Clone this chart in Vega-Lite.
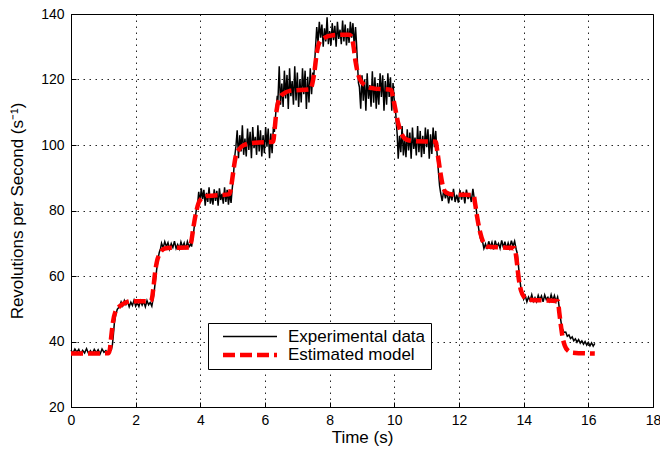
{
  "$schema": "https://vega.github.io/schema/vega-lite/v6.json",
  "width": 582,
  "height": 393,
  "autosize": "none",
  "padding": {"left": 71, "top": 14, "right": 7, "bottom": 42},
  "background": "white",
  "config": {
    "font": "Liberation Sans",
    "view": {"stroke": "black", "strokeWidth": 1},
    "axis": {
      "domainColor": "black", "domainWidth": 1,
      "tickColor": "black", "tickSize": -5,
      "labelColor": "black", "labelFontSize": 14, "labelFont": "Liberation Sans",
      "titleColor": "black", "titleFontSize": 17, "titleFontWeight": "normal", "titleFont": "Liberation Sans",
      "grid": true, "gridColor": "black", "gridDash": [1.5, 4.5], "gridWidth": 1, "gridOpacity": 0.85
    },
    "legend": {
      "orient": "none", "legendX": 137, "legendY": 309,
      "fillColor": "white", "strokeColor": "black", "padding": 5,
      "symbolType": "M0,0L7.2,0", "symbolSize": 225,
      "labelFontSize": 17, "labelFont": "Liberation Sans", "labelColor": "black",
      "labelOffset": 55, "rowPadding": 0
    }
  },
  "datasets": {
    "exp": [
      {"s":"E","t":0,"v":37.4},{"s":"E","t":0.06,"v":36.4},{"s":"E","t":0.12,"v":37.7},{"s":"E","t":0.18,"v":36.8},{"s":"E","t":0.24,"v":37.6},{"s":"E","t":0.3,"v":36.2},{"s":"E","t":0.36,"v":37.3},{"s":"E","t":0.42,"v":36.5},{"s":"E","t":0.48,"v":37.8},{"s":"E","t":0.54,"v":36.4},{"s":"E","t":0.6,"v":37.2},{"s":"E","t":0.66,"v":36.3},{"s":"E","t":0.72,"v":37.6},{"s":"E","t":0.78,"v":36.6},{"s":"E","t":0.84,"v":37.5},{"s":"E","t":0.9,"v":36.2},{"s":"E","t":0.96,"v":37.7},{"s":"E","t":1.02,"v":36.7},{"s":"E","t":1.08,"v":37.2},{"s":"E","t":1.14,"v":36.4},{"s":"E","t":1.2,"v":37.8},{"s":"E","t":1.25,"v":37.5},
      {"s":"E","t":1.28,"v":39},{"s":"E","t":1.31,"v":42},{"s":"E","t":1.34,"v":45.5},{"s":"E","t":1.38,"v":48},{"s":"E","t":1.43,"v":49.8},{"s":"E","t":1.5,"v":50.6},
      {"s":"E","t":1.55,"v":52.1},{"s":"E","t":1.6,"v":50.9},{"s":"E","t":1.65,"v":52.5},{"s":"E","t":1.7,"v":51.3},{"s":"E","t":1.75,"v":52.3},{"s":"E","t":1.8,"v":50.6},{"s":"E","t":1.85,"v":52.0},{"s":"E","t":1.9,"v":51.0},{"s":"E","t":1.95,"v":52.6},{"s":"E","t":2.0,"v":50.8},{"s":"E","t":2.05,"v":51.8},{"s":"E","t":2.1,"v":50.7},{"s":"E","t":2.15,"v":52.4},{"s":"E","t":2.2,"v":51.1},{"s":"E","t":2.25,"v":52.2},{"s":"E","t":2.3,"v":50.6},{"s":"E","t":2.35,"v":52.5},{"s":"E","t":2.4,"v":51.2},{"s":"E","t":2.45,"v":51.9},{"s":"E","t":2.5,"v":50.8},
      {"s":"E","t":2.53,"v":52.5},{"s":"E","t":2.57,"v":55},{"s":"E","t":2.61,"v":58.5},{"s":"E","t":2.65,"v":62},{"s":"E","t":2.69,"v":65},{"s":"E","t":2.73,"v":67.2},{"s":"E","t":2.77,"v":68.4},
      {"s":"E","t":2.8,"v":70.0},{"s":"E","t":2.85,"v":68.6},{"s":"E","t":2.9,"v":70.5},{"s":"E","t":2.95,"v":69.0},{"s":"E","t":3.0,"v":70.2},{"s":"E","t":3.05,"v":68.2},{"s":"E","t":3.1,"v":69.9},{"s":"E","t":3.15,"v":68.7},{"s":"E","t":3.2,"v":70.6},{"s":"E","t":3.25,"v":68.4},{"s":"E","t":3.3,"v":69.6},{"s":"E","t":3.35,"v":68.3},{"s":"E","t":3.4,"v":70.4},{"s":"E","t":3.45,"v":68.8},{"s":"E","t":3.5,"v":70.1},{"s":"E","t":3.55,"v":68.2},{"s":"E","t":3.6,"v":70.5},{"s":"E","t":3.65,"v":68.9},{"s":"E","t":3.7,"v":69.8},{"s":"E","t":3.73,"v":69.0},
      {"s":"E","t":3.76,"v":71},{"s":"E","t":3.8,"v":74},{"s":"E","t":3.84,"v":77.5},{"s":"E","t":3.88,"v":80.5},{"s":"E","t":3.92,"v":82.5},
      {"s":"E","t":3.95,"v":85.7},{"s":"E","t":3.99,"v":82.3},{"s":"E","t":4.03,"v":86.8},{"s":"E","t":4.07,"v":83.5},{"s":"E","t":4.11,"v":86.3},{"s":"E","t":4.15,"v":81.5},{"s":"E","t":4.19,"v":85.4},{"s":"E","t":4.23,"v":82.6},{"s":"E","t":4.27,"v":87.1},{"s":"E","t":4.31,"v":82.1},{"s":"E","t":4.35,"v":84.9},{"s":"E","t":4.39,"v":81.8},{"s":"E","t":4.43,"v":86.5},{"s":"E","t":4.47,"v":82.9},{"s":"E","t":4.51,"v":86.0},{"s":"E","t":4.55,"v":81.5},{"s":"E","t":4.59,"v":86.8},{"s":"E","t":4.63,"v":83.2},{"s":"E","t":4.67,"v":85.1},{"s":"E","t":4.71,"v":82.1},{"s":"E","t":4.75,"v":87.1},{"s":"E","t":4.79,"v":82.6},{"s":"E","t":4.83,"v":86.3},{"s":"E","t":4.87,"v":81.8},{"s":"E","t":4.91,"v":85.4},{"s":"E","t":4.95,"v":82.3},
      {"s":"E","t":4.98,"v":86},{"s":"E","t":5.01,"v":89},{"s":"E","t":5.04,"v":93},{"s":"E","t":5.07,"v":97},
      {"s":"E","t":5.1,"v":99.5},{"s":"E","t":5.14,"v":104.5},{"s":"E","t":5.18,"v":96.0},{"s":"E","t":5.22,"v":103.0},{"s":"E","t":5.26,"v":98.0},{"s":"E","t":5.3,"v":106.0},{"s":"E","t":5.34,"v":97.0},{"s":"E","t":5.38,"v":102.0},{"s":"E","t":5.42,"v":96.5},{"s":"E","t":5.46,"v":105.0},{"s":"E","t":5.5,"v":98.5},{"s":"E","t":5.54,"v":104.0},{"s":"E","t":5.58,"v":96.0},{"s":"E","t":5.62,"v":105.5},{"s":"E","t":5.66,"v":99.0},{"s":"E","t":5.7,"v":102.5},{"s":"E","t":5.74,"v":97.0},{"s":"E","t":5.78,"v":106.0},{"s":"E","t":5.82,"v":98.0},{"s":"E","t":5.86,"v":104.5},{"s":"E","t":5.9,"v":96.5},{"s":"E","t":5.94,"v":103.0},{"s":"E","t":5.98,"v":97.5},{"s":"E","t":6.02,"v":105.5},{"s":"E","t":6.06,"v":99.5},{"s":"E","t":6.1,"v":105.0},{"s":"E","t":6.14,"v":96.0},{"s":"E","t":6.18,"v":103.5},{"s":"E","t":6.22,"v":97.5},{"s":"E","t":6.26,"v":105.5},
      {"s":"E","t":6.29,"v":104},{"s":"E","t":6.32,"v":108},{"s":"E","t":6.35,"v":112},{"s":"E","t":6.38,"v":115},
      {"s":"E","t":6.4,"v":113.6},{"s":"E","t":6.44,"v":124.0},{"s":"E","t":6.48,"v":112.3},{"s":"E","t":6.52,"v":118.8},{"s":"E","t":6.56,"v":111.6},{"s":"E","t":6.6,"v":122.7},{"s":"E","t":6.64,"v":114.2},{"s":"E","t":6.68,"v":121.4},{"s":"E","t":6.72,"v":111.0},{"s":"E","t":6.76,"v":123.4},{"s":"E","t":6.8,"v":114.9},{"s":"E","t":6.84,"v":119.5},{"s":"E","t":6.88,"v":112.3},{"s":"E","t":6.92,"v":124.0},{"s":"E","t":6.96,"v":113.6},{"s":"E","t":7.0,"v":122.1},{"s":"E","t":7.04,"v":111.6},{"s":"E","t":7.08,"v":120.1},{"s":"E","t":7.12,"v":113.0},{"s":"E","t":7.16,"v":123.4},{"s":"E","t":7.2,"v":115.5},{"s":"E","t":7.24,"v":122.7},{"s":"E","t":7.28,"v":111.0},{"s":"E","t":7.32,"v":120.8},{"s":"E","t":7.36,"v":113.0},{"s":"E","t":7.4,"v":123.4},{"s":"E","t":7.44,"v":115.5},{"s":"E","t":7.48,"v":122.1},
      {"s":"E","t":7.51,"v":121},{"s":"E","t":7.54,"v":126},{"s":"E","t":7.57,"v":131},
      {"s":"E","t":7.6,"v":136.0},{"s":"E","t":7.64,"v":131.2},{"s":"E","t":7.68,"v":137.6},{"s":"E","t":7.72,"v":132.8},{"s":"E","t":7.76,"v":136.8},{"s":"E","t":7.8,"v":130.0},{"s":"E","t":7.84,"v":135.6},{"s":"E","t":7.88,"v":131.6},{"s":"E","t":7.92,"v":139.0},{"s":"E","t":7.96,"v":130.8},{"s":"E","t":8.0,"v":134.8},{"s":"E","t":8.04,"v":130.4},{"s":"E","t":8.08,"v":137.2},{"s":"E","t":8.12,"v":132.0},{"s":"E","t":8.16,"v":136.4},{"s":"E","t":8.2,"v":130.0},{"s":"E","t":8.24,"v":137.6},{"s":"E","t":8.28,"v":132.4},{"s":"E","t":8.32,"v":135.2},{"s":"E","t":8.36,"v":130.8},{"s":"E","t":8.4,"v":138.0},{"s":"E","t":8.44,"v":131.6},{"s":"E","t":8.48,"v":136.8},{"s":"E","t":8.52,"v":130.4},{"s":"E","t":8.56,"v":135.6},{"s":"E","t":8.6,"v":131.2},{"s":"E","t":8.64,"v":137.6},{"s":"E","t":8.68,"v":132.8},{"s":"E","t":8.72,"v":137.2},{"s":"E","t":8.76,"v":130.0},{"s":"E","t":8.8,"v":136.0},
      {"s":"E","t":8.83,"v":131},{"s":"E","t":8.86,"v":125},{"s":"E","t":8.89,"v":119},
      {"s":"E","t":8.92,"v":117.7},{"s":"E","t":8.96,"v":111.1},{"s":"E","t":9.0,"v":121.3},{"s":"E","t":9.04,"v":113.5},{"s":"E","t":9.08,"v":120.1},{"s":"E","t":9.12,"v":110.5},{"s":"E","t":9.16,"v":121.9},{"s":"E","t":9.2,"v":114.1},{"s":"E","t":9.24,"v":118.3},{"s":"E","t":9.28,"v":111.7},{"s":"E","t":9.32,"v":122.5},{"s":"E","t":9.36,"v":112.9},{"s":"E","t":9.4,"v":120.7},{"s":"E","t":9.44,"v":111.1},{"s":"E","t":9.48,"v":118.9},{"s":"E","t":9.52,"v":112.3},{"s":"E","t":9.56,"v":121.9},{"s":"E","t":9.6,"v":114.7},{"s":"E","t":9.64,"v":121.3},{"s":"E","t":9.68,"v":110.5},{"s":"E","t":9.72,"v":119.5},{"s":"E","t":9.76,"v":112.3},{"s":"E","t":9.8,"v":121.9},{"s":"E","t":9.84,"v":114.7},{"s":"E","t":9.88,"v":120.7},{"s":"E","t":9.92,"v":110.5},{"s":"E","t":9.96,"v":118.9},{"s":"E","t":10.0,"v":112.9},
      {"s":"E","t":10.03,"v":112},{"s":"E","t":10.06,"v":107},{"s":"E","t":10.09,"v":103},
      {"s":"E","t":10.12,"v":95.8},{"s":"E","t":10.16,"v":102.8},{"s":"E","t":10.2,"v":97.8},{"s":"E","t":10.24,"v":105.8},{"s":"E","t":10.28,"v":96.8},{"s":"E","t":10.32,"v":101.8},{"s":"E","t":10.36,"v":96.3},{"s":"E","t":10.4,"v":104.8},{"s":"E","t":10.44,"v":98.3},{"s":"E","t":10.48,"v":103.8},{"s":"E","t":10.52,"v":95.8},{"s":"E","t":10.56,"v":105.3},{"s":"E","t":10.6,"v":98.8},{"s":"E","t":10.64,"v":102.3},{"s":"E","t":10.68,"v":96.8},{"s":"E","t":10.72,"v":105.8},{"s":"E","t":10.76,"v":97.8},{"s":"E","t":10.8,"v":104.3},{"s":"E","t":10.84,"v":96.3},{"s":"E","t":10.88,"v":102.8},{"s":"E","t":10.92,"v":97.3},{"s":"E","t":10.96,"v":105.3},{"s":"E","t":11.0,"v":99.3},{"s":"E","t":11.04,"v":104.8},{"s":"E","t":11.08,"v":95.8},{"s":"E","t":11.12,"v":103.3},{"s":"E","t":11.16,"v":97.3},{"s":"E","t":11.2,"v":105.3},{"s":"E","t":11.24,"v":99.3},{"s":"E","t":11.28,"v":104.3},
      {"s":"E","t":11.31,"v":99},{"s":"E","t":11.34,"v":95},{"s":"E","t":11.37,"v":91},{"s":"E","t":11.4,"v":87.5},
      {"s":"E","t":11.43,"v":85.5},{"s":"E","t":11.48,"v":82.9},{"s":"E","t":11.53,"v":86.4},{"s":"E","t":11.58,"v":83.7},{"s":"E","t":11.63,"v":85.9},{"s":"E","t":11.68,"v":82.2},{"s":"E","t":11.73,"v":85.3},{"s":"E","t":11.78,"v":83.1},{"s":"E","t":11.83,"v":86.6},{"s":"E","t":11.88,"v":82.6},{"s":"E","t":11.93,"v":84.8},{"s":"E","t":11.98,"v":82.4},{"s":"E","t":12.03,"v":86.2},{"s":"E","t":12.08,"v":83.3},{"s":"E","t":12.13,"v":85.7},{"s":"E","t":12.18,"v":82.2},{"s":"E","t":12.23,"v":86.4},{"s":"E","t":12.28,"v":83.5},{"s":"E","t":12.33,"v":85.1},{"s":"E","t":12.38,"v":82.6},{"s":"E","t":12.43,"v":86.6},{"s":"E","t":12.48,"v":83.1},
      {"s":"E","t":12.52,"v":81.5},{"s":"E","t":12.56,"v":78},{"s":"E","t":12.6,"v":75},{"s":"E","t":12.64,"v":72.5},{"s":"E","t":12.68,"v":70.8},
      {"s":"E","t":12.72,"v":70.9},{"s":"E","t":12.77,"v":68.4},{"s":"E","t":12.82,"v":69.8},{"s":"E","t":12.87,"v":68.2},{"s":"E","t":12.92,"v":70.6},{"s":"E","t":12.97,"v":68.8},{"s":"E","t":13.02,"v":70.3},{"s":"E","t":13.07,"v":68.1},{"s":"E","t":13.12,"v":70.8},{"s":"E","t":13.17,"v":68.9},{"s":"E","t":13.22,"v":69.9},{"s":"E","t":13.27,"v":68.4},{"s":"E","t":13.32,"v":70.9},{"s":"E","t":13.37,"v":68.7},{"s":"E","t":13.42,"v":70.5},{"s":"E","t":13.47,"v":68.2},{"s":"E","t":13.52,"v":70.1},{"s":"E","t":13.57,"v":68.5},{"s":"E","t":13.62,"v":70.8},{"s":"E","t":13.67,"v":69.1},{"s":"E","t":13.72,"v":70.6},{"s":"E","t":13.77,"v":68.1},
      {"s":"E","t":13.8,"v":67},{"s":"E","t":13.84,"v":63},{"s":"E","t":13.88,"v":59},{"s":"E","t":13.92,"v":56},{"s":"E","t":13.96,"v":54.5},
      {"s":"E","t":14.0,"v":52.9},{"s":"E","t":14.05,"v":54.0},{"s":"E","t":14.1,"v":52.1},{"s":"E","t":14.15,"v":53.6},{"s":"E","t":14.2,"v":52.5},{"s":"E","t":14.25,"v":54.3},{"s":"E","t":14.3,"v":52.3},{"s":"E","t":14.35,"v":53.4},{"s":"E","t":14.4,"v":52.2},{"s":"E","t":14.45,"v":54.1},{"s":"E","t":14.5,"v":52.7},{"s":"E","t":14.55,"v":53.9},{"s":"E","t":14.6,"v":52.1},{"s":"E","t":14.65,"v":54.2},{"s":"E","t":14.7,"v":52.8},{"s":"E","t":14.75,"v":53.5},{"s":"E","t":14.8,"v":52.3},{"s":"E","t":14.85,"v":54.3},{"s":"E","t":14.9,"v":52.5},{"s":"E","t":14.95,"v":54.0},{"s":"E","t":15.0,"v":52.2},{"s":"E","t":15.05,"v":53.6},
      {"s":"E","t":15.08,"v":52},{"s":"E","t":15.11,"v":49.5},{"s":"E","t":15.14,"v":47},{"s":"E","t":15.17,"v":45},{"s":"E","t":15.2,"v":43.8},{"s":"E","t":15.25,"v":42.8},
      {"s":"E","t":15.3,"v":42.9},{"s":"E","t":15.35,"v":41.6},{"s":"E","t":15.4,"v":42.0},{"s":"E","t":15.45,"v":40.9},{"s":"E","t":15.5,"v":41.4},{"s":"E","t":15.55,"v":40.2},{"s":"E","t":15.6,"v":40.8},{"s":"E","t":15.65,"v":39.8},{"s":"E","t":15.7,"v":40.6},{"s":"E","t":15.75,"v":39.5},{"s":"E","t":15.8,"v":40.2},{"s":"E","t":15.85,"v":39.2},{"s":"E","t":15.9,"v":40.0},{"s":"E","t":15.95,"v":38.9},{"s":"E","t":16.0,"v":39.7},{"s":"E","t":16.05,"v":38.7},{"s":"E","t":16.1,"v":39.6},{"s":"E","t":16.15,"v":38.6},{"s":"E","t":16.2,"v":39.4}
    ],
    "model": [
      {"s":"M","t":0,"v":36.3},{"s":"M","t":1.15,"v":36.4},{"s":"M","t":1.2,"v":37.5},{"s":"M","t":1.25,"v":42},{"s":"M","t":1.3,"v":46},{"s":"M","t":1.37,"v":49},{"s":"M","t":1.5,"v":50.7},{"s":"M","t":1.6,"v":51.4},{"s":"M","t":1.85,"v":52.3},{"s":"M","t":2.45,"v":52.3},
      {"s":"M","t":2.5,"v":53},{"s":"M","t":2.55,"v":56.5},{"s":"M","t":2.6,"v":61},{"s":"M","t":2.66,"v":64.5},{"s":"M","t":2.75,"v":66.9},{"s":"M","t":2.9,"v":68.4},{"s":"M","t":3.1,"v":68.6},{"s":"M","t":3.65,"v":68.7},
      {"s":"M","t":3.72,"v":70.5},{"s":"M","t":3.78,"v":74.5},{"s":"M","t":3.85,"v":78.5},{"s":"M","t":3.92,"v":81.5},{"s":"M","t":4.02,"v":83.5},{"s":"M","t":4.2,"v":84.4},{"s":"M","t":4.9,"v":85},
      {"s":"M","t":4.95,"v":87},{"s":"M","t":5.0,"v":90.5},{"s":"M","t":5.05,"v":94},{"s":"M","t":5.1,"v":96.8},{"s":"M","t":5.2,"v":98.7},{"s":"M","t":5.35,"v":100},{"s":"M","t":5.7,"v":100.7},{"s":"M","t":6.25,"v":101},
      {"s":"M","t":6.3,"v":105},{"s":"M","t":6.35,"v":110},{"s":"M","t":6.42,"v":113.5},{"s":"M","t":6.55,"v":115.5},{"s":"M","t":6.8,"v":116.6},{"s":"M","t":7.4,"v":117},
      {"s":"M","t":7.47,"v":119},{"s":"M","t":7.53,"v":122.5},{"s":"M","t":7.6,"v":128},{"s":"M","t":7.67,"v":131},{"s":"M","t":7.8,"v":132.5},{"s":"M","t":8.1,"v":133.5},{"s":"M","t":8.6,"v":133.7},
      {"s":"M","t":8.68,"v":133},{"s":"M","t":8.74,"v":130},{"s":"M","t":8.8,"v":125.5},{"s":"M","t":8.87,"v":122},{"s":"M","t":8.95,"v":119.8},{"s":"M","t":9.1,"v":118.2},{"s":"M","t":9.35,"v":117.3},{"s":"M","t":9.9,"v":116.8},
      {"s":"M","t":9.97,"v":114},{"s":"M","t":10.05,"v":110},{"s":"M","t":10.12,"v":106.6},{"s":"M","t":10.22,"v":103.5},{"s":"M","t":10.35,"v":101.8},{"s":"M","t":10.6,"v":101.2},{"s":"M","t":11.28,"v":101},
      {"s":"M","t":11.33,"v":98},{"s":"M","t":11.41,"v":92.5},{"s":"M","t":11.5,"v":87.5},{"s":"M","t":11.6,"v":85.5},{"s":"M","t":11.8,"v":84.9},{"s":"M","t":12.45,"v":84.7},
      {"s":"M","t":12.5,"v":82},{"s":"M","t":12.57,"v":77.5},{"s":"M","t":12.65,"v":73.5},{"s":"M","t":12.75,"v":70.3},{"s":"M","t":12.86,"v":69},{"s":"M","t":13.72,"v":68.5},
      {"s":"M","t":13.78,"v":65},{"s":"M","t":13.85,"v":59},{"s":"M","t":13.92,"v":55.5},{"s":"M","t":14.0,"v":53.8},{"s":"M","t":14.15,"v":52.8},{"s":"M","t":15.06,"v":52.3},
      {"s":"M","t":15.1,"v":49},{"s":"M","t":15.15,"v":45},{"s":"M","t":15.2,"v":41.5},{"s":"M","t":15.27,"v":38.8},{"s":"M","t":15.37,"v":37.2},{"s":"M","t":15.5,"v":36.6},{"s":"M","t":16.2,"v":36.3}
    ]
  },
  "encoding": {
    "x": {
      "field": "t", "type": "quantitative",
      "scale": {"domain": [0, 18], "nice": false},
      "axis": {"title": "Time (s)", "values": [0,2,4,6,8,10,12,14,16,18], "labelPadding": 11, "titlePadding": 2, "labelFlush": false}
    },
    "y": {
      "field": "v", "type": "quantitative",
      "scale": {"domain": [20, 140], "nice": false, "zero": false},
      "axis": {"title": "Revolutions per Second (s⁻¹)", "values": [20,40,60,80,100,120,140], "labelPadding": 12, "titlePadding": 14, "labelFlush": false}
    },
    "color": {"field": "s", "type": "nominal", "scale": {"domain": ["E", "M"], "range": ["#000000", "#ff0000"]}, "legend": {"title": null, "labelExpr": "datum.label == 'E' ? 'Experimental data' : 'Estimated model'"}},
    "strokeDash": {"field": "s", "type": "nominal", "scale": {"domain": ["E", "M"], "range": [[1, 0], [12, 5]]}, "legend": {"title": null, "labelExpr": "datum.label == 'E' ? 'Experimental data' : 'Estimated model'"}},
    "strokeWidth": {"field": "s", "type": "nominal", "scale": {"type": "ordinal", "domain": ["E", "M"], "range": [1.5, 4.5]}, "legend": {"title": null, "labelExpr": "datum.label == 'E' ? 'Experimental data' : 'Estimated model'"}}
  },
  "layer": [
    {
      "data": {"name": "exp"},
      "mark": {"type": "line", "interpolate": "linear"}
    },
    {
      "data": {"name": "model"},
      "mark": {"type": "line", "interpolate": "monotone"}
    }
  ]
}
